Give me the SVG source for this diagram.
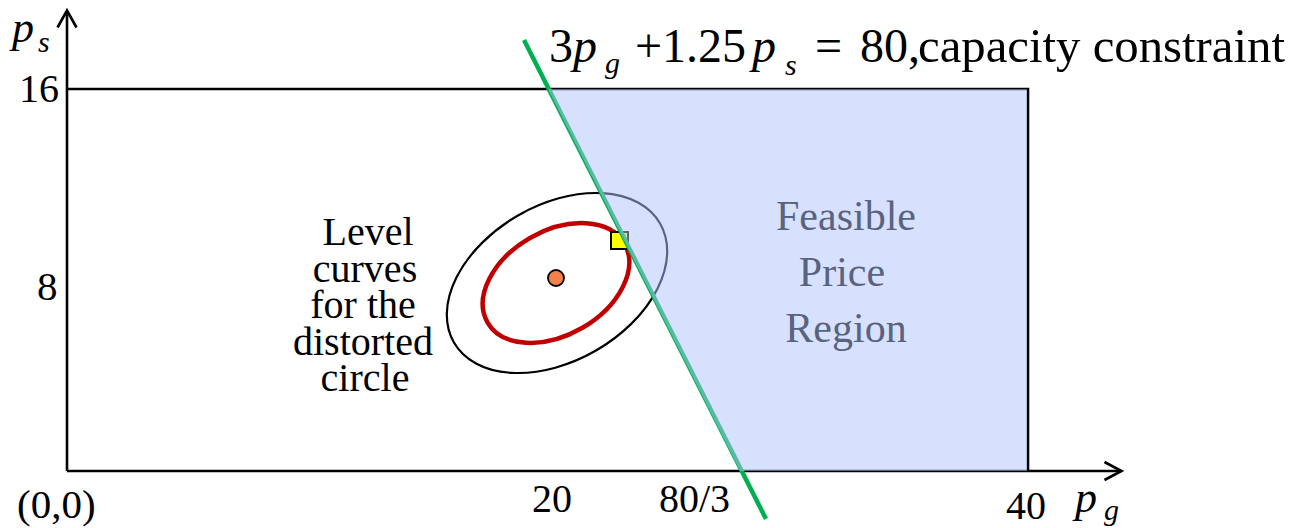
<svg xmlns="http://www.w3.org/2000/svg" width="1298" height="528" viewBox="0 0 1298 528">
<style>
text{font-family:'Liberation Serif','Times New Roman',serif;fill:#000}
.i{font-style:italic}
.ax{stroke:#000;stroke-width:2.6;fill:none}
.lbl{font-size:40px;text-anchor:middle}
.fr{font-size:42px;text-anchor:middle;fill:#596380}
</style>
<rect width="1298" height="528" fill="#fff"/>
<g id="frame">
<polyline class="ax" points="67,89 1028,89 1028,471"/>
</g>
<g id="connectors">
<line class="ax" x1="67" y1="471" x2="67" y2="11"/>
<polyline class="ax" points="57.5,27.5 67,10.5 76.5,27.5"/>
<line class="ax" x1="67" y1="471" x2="1121" y2="471"/>
<polyline class="ax" points="1104.5,462 1121.5,471 1104.5,480"/>
</g>
<g id="level-curves">
<ellipse cx="557" cy="283" rx="119" ry="78" transform="rotate(-30 557 283)" fill="none" stroke="#000" stroke-width="2.2"/>
<ellipse cx="556" cy="283" rx="79" ry="52" transform="rotate(-30 556 283)" fill="none" stroke="#c00000" stroke-width="4.5"/>
</g>
<g id="center-point">
<circle cx="556" cy="278" r="8" fill="#f4804c" stroke="#000" stroke-width="1.8"/>
</g>
<g id="optimum">
<rect x="611" y="232" width="17" height="17" fill="#ffff00" stroke="#000" stroke-width="2"/>
</g>
<g id="constraint-line">
<line x1="524" y1="40" x2="766" y2="519" stroke="#00b050" stroke-width="4.5"/>
</g>
<g id="feasible-region">
<polygon points="548,89 1027,89 1027,471 740,471" fill="#b0c4fb" fill-opacity="0.51"/>
<text class="fr" x="846" y="230">Feasible</text>
<text class="fr" x="842" y="286">Price</text>
<text class="fr" x="846" y="342">Region</text>
</g>
<g id="level-label">
<text class="lbl" x="368" y="245">Level</text>
<text class="lbl" x="365" y="282">curves</text>
<text class="lbl" x="363" y="318">for the</text>
<text class="lbl" x="363" y="355">distorted</text>
<text class="lbl" x="365" y="391">circle</text>
</g>
<g id="equation">
<text y="62" font-size="48"><tspan x="549">3</tspan><tspan class="i" x="573">p</tspan><tspan class="i" x="605" y="73" font-size="30">g</tspan><tspan x="635" y="62">+</tspan><tspan x="662">1.25</tspan><tspan class="i" x="752">p</tspan><tspan class="i" x="785" y="75" font-size="30">s</tspan><tspan x="815" y="62">=</tspan><tspan x="860">80,</tspan><tspan x="918" textLength="367" lengthAdjust="spacingAndGlyphs">capacity constraint</tspan></text>
</g>
<g id="axis-labels">
<text class="i" x="12" y="42" font-size="44">p</text>
<text class="i" x="38" y="52" font-size="30">s</text>
<text x="19" y="102" font-size="40">16</text>
<text x="37" y="300" font-size="41">8</text>
<text x="17" y="518" font-size="41">(0,0)</text>
<text x="532" y="512" font-size="40">20</text>
<text x="659" y="512" font-size="40">80/3</text>
<text x="1006" y="519" font-size="40">40</text>
<text class="i" x="1075" y="512" font-size="44">p</text>
<text class="i" x="1104" y="520" font-size="30">g</text>
</g>
</svg>
